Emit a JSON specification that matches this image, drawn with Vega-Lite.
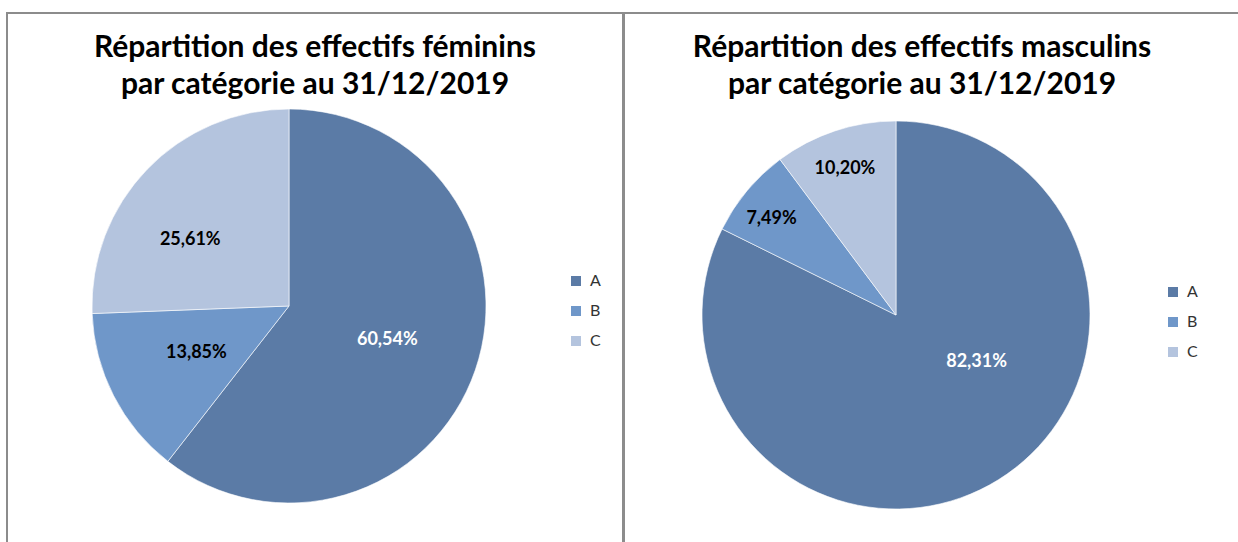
{
  "$schema": "https://vega.github.io/schema/vega-lite/v6.json",
  "padding": {"left": 6, "top": 12, "right": 0, "bottom": 0},
  "background": "white",
  "spacing": -1,
  "config": {
    "locale": {"number": {"decimal": ",", "thousands": " ", "grouping": [3], "currency": ["", " €"]}},
    "view": {"stroke": null},
    "font": "Lato",
    "title": {"fontSize": 30, "fontWeight": "bold", "color": "#000000", "lineHeight": 37, "font": "Lato", "anchor": "middle", "frame": "group"},
    "legend": {"symbolType": "square", "symbolSize": 100, "labelFontSize": 16, "labelFont": "Lato", "labelColor": "#333333", "rowPadding": 14, "padding": 0, "labelOffset": 6, "symbolStrokeWidth": 0}
  },
  "datasets": {
    "fem": [
      {"cat": "A", "value": 0.6054},
      {"cat": "B", "value": 0.1385},
      {"cat": "C", "value": 0.2561}
    ],
    "mas": [
      {"cat": "A", "value": 0.8231},
      {"cat": "B", "value": 0.0749},
      {"cat": "C", "value": 0.1020}
    ],
    "frame": [{}]
  },
  "resolve": {"scale": {"color": "independent"}, "legend": {"color": "independent"}},
  "hconcat": [
    {
      "width": 616,
      "height": 531,
      "title": {"text": ["Répartition des effectifs féminins", "par catégorie au 31/12/2019"], "offset": -88, "dx": 0},
      "layer": [
        {
          "data": {"name": "frame"},
          "mark": {"type": "rect", "filled": false, "stroke": "#8c8c8c", "strokeWidth": 2},
          "encoding": {}
        },
        {
          "data": {"name": "fem"},
          "mark": {"type": "arc", "outerRadius": 197, "x": 282, "y": 293, "stroke": "#ffffff", "strokeWidth": 0.6},
          "encoding": {
            "theta": {"field": "value", "type": "quantitative", "stack": true},
            "order": {"field": "cat", "type": "ordinal", "sort": "ascending"},
            "color": {"field": "cat", "type": "nominal",
              "scale": {"domain": ["A", "B", "C"], "range": ["#5B7BA6", "#6F97C9", "#B4C4DE"]},
              "legend": {"title": null, "orient": "none", "legendX": 561, "legendY": 260}}
          }
        },
        {
          "data": {"name": "fem"},
          "mark": {"type": "text", "radius": 104, "x": 282, "y": 293, "fontWeight": "bold", "fontSize": 18, "font": "Lato"},
          "encoding": {
            "theta": {"field": "value", "type": "quantitative", "stack": true},
            "order": {"field": "cat", "type": "ordinal", "sort": "ascending"},
            "detail": {"field": "cat", "type": "nominal"},
            "text": {"condition": {"test": "datum.cat !== 'C'", "field": "value", "type": "quantitative", "format": ".2%"}, "value": ""},
            "color": {"condition": {"test": "datum.cat === 'A'", "value": "#ffffff"}, "value": "#000000"}
          }
        },
        {
          "data": {"name": "fem"},
          "mark": {"type": "text", "radius": 119, "x": 282, "y": 293, "dx": -13, "dy": 17, "fontWeight": "bold", "fontSize": 18, "font": "Lato", "color": "#000000"},
          "encoding": {
            "theta": {"field": "value", "type": "quantitative", "stack": true},
            "order": {"field": "cat", "type": "ordinal", "sort": "ascending"},
            "detail": {"field": "cat", "type": "nominal"},
            "text": {"condition": {"test": "datum.cat === 'C'", "field": "value", "type": "quantitative", "format": ".2%"}, "value": ""}
          }
        }
      ]
    },
    {
      "width": 616,
      "height": 531,
      "title": {"text": ["Répartition des effectifs masculins", "par catégorie au 31/12/2019"], "offset": -88, "dx": -10},
      "layer": [
        {
          "data": {"name": "frame"},
          "mark": {"type": "rect", "filled": false, "stroke": "#8c8c8c", "strokeWidth": 2},
          "encoding": {}
        },
        {
          "data": {"name": "mas"},
          "mark": {"type": "arc", "outerRadius": 194, "x": 272, "y": 302, "stroke": "#ffffff", "strokeWidth": 0.6},
          "encoding": {
            "theta": {"field": "value", "type": "quantitative", "stack": true},
            "order": {"field": "cat", "type": "ordinal", "sort": "ascending"},
            "color": {"field": "cat", "type": "nominal",
              "scale": {"domain": ["A", "B", "C"], "range": ["#5B7BA6", "#6F97C9", "#B4C4DE"]},
              "legend": {"title": null, "orient": "none", "legendX": 541, "legendY": 271}}
          }
        },
        {
          "data": {"name": "mas"},
          "mark": {"type": "text", "radius": 162, "x": 272, "y": 302, "dy": 8, "fontWeight": "bold", "fontSize": 18, "font": "Lato", "color": "#000000"},
          "encoding": {
            "theta": {"field": "value", "type": "quantitative", "stack": true},
            "order": {"field": "cat", "type": "ordinal", "sort": "ascending"},
            "detail": {"field": "cat", "type": "nominal"},
            "text": {"condition": {"test": "datum.cat !== 'A'", "field": "value", "type": "quantitative", "format": ".2%"}, "value": ""}
          }
        },
        {
          "data": {"name": "mas"},
          "mark": {"type": "text", "radius": 94, "x": 272, "y": 302, "dx": 31, "dy": -33, "fontWeight": "bold", "fontSize": 18, "font": "Lato", "color": "#ffffff"},
          "encoding": {
            "theta": {"field": "value", "type": "quantitative", "stack": true},
            "order": {"field": "cat", "type": "ordinal", "sort": "ascending"},
            "detail": {"field": "cat", "type": "nominal"},
            "text": {"condition": {"test": "datum.cat === 'A'", "field": "value", "type": "quantitative", "format": ".2%"}, "value": ""}
          }
        }
      ]
    }
  ]
}
